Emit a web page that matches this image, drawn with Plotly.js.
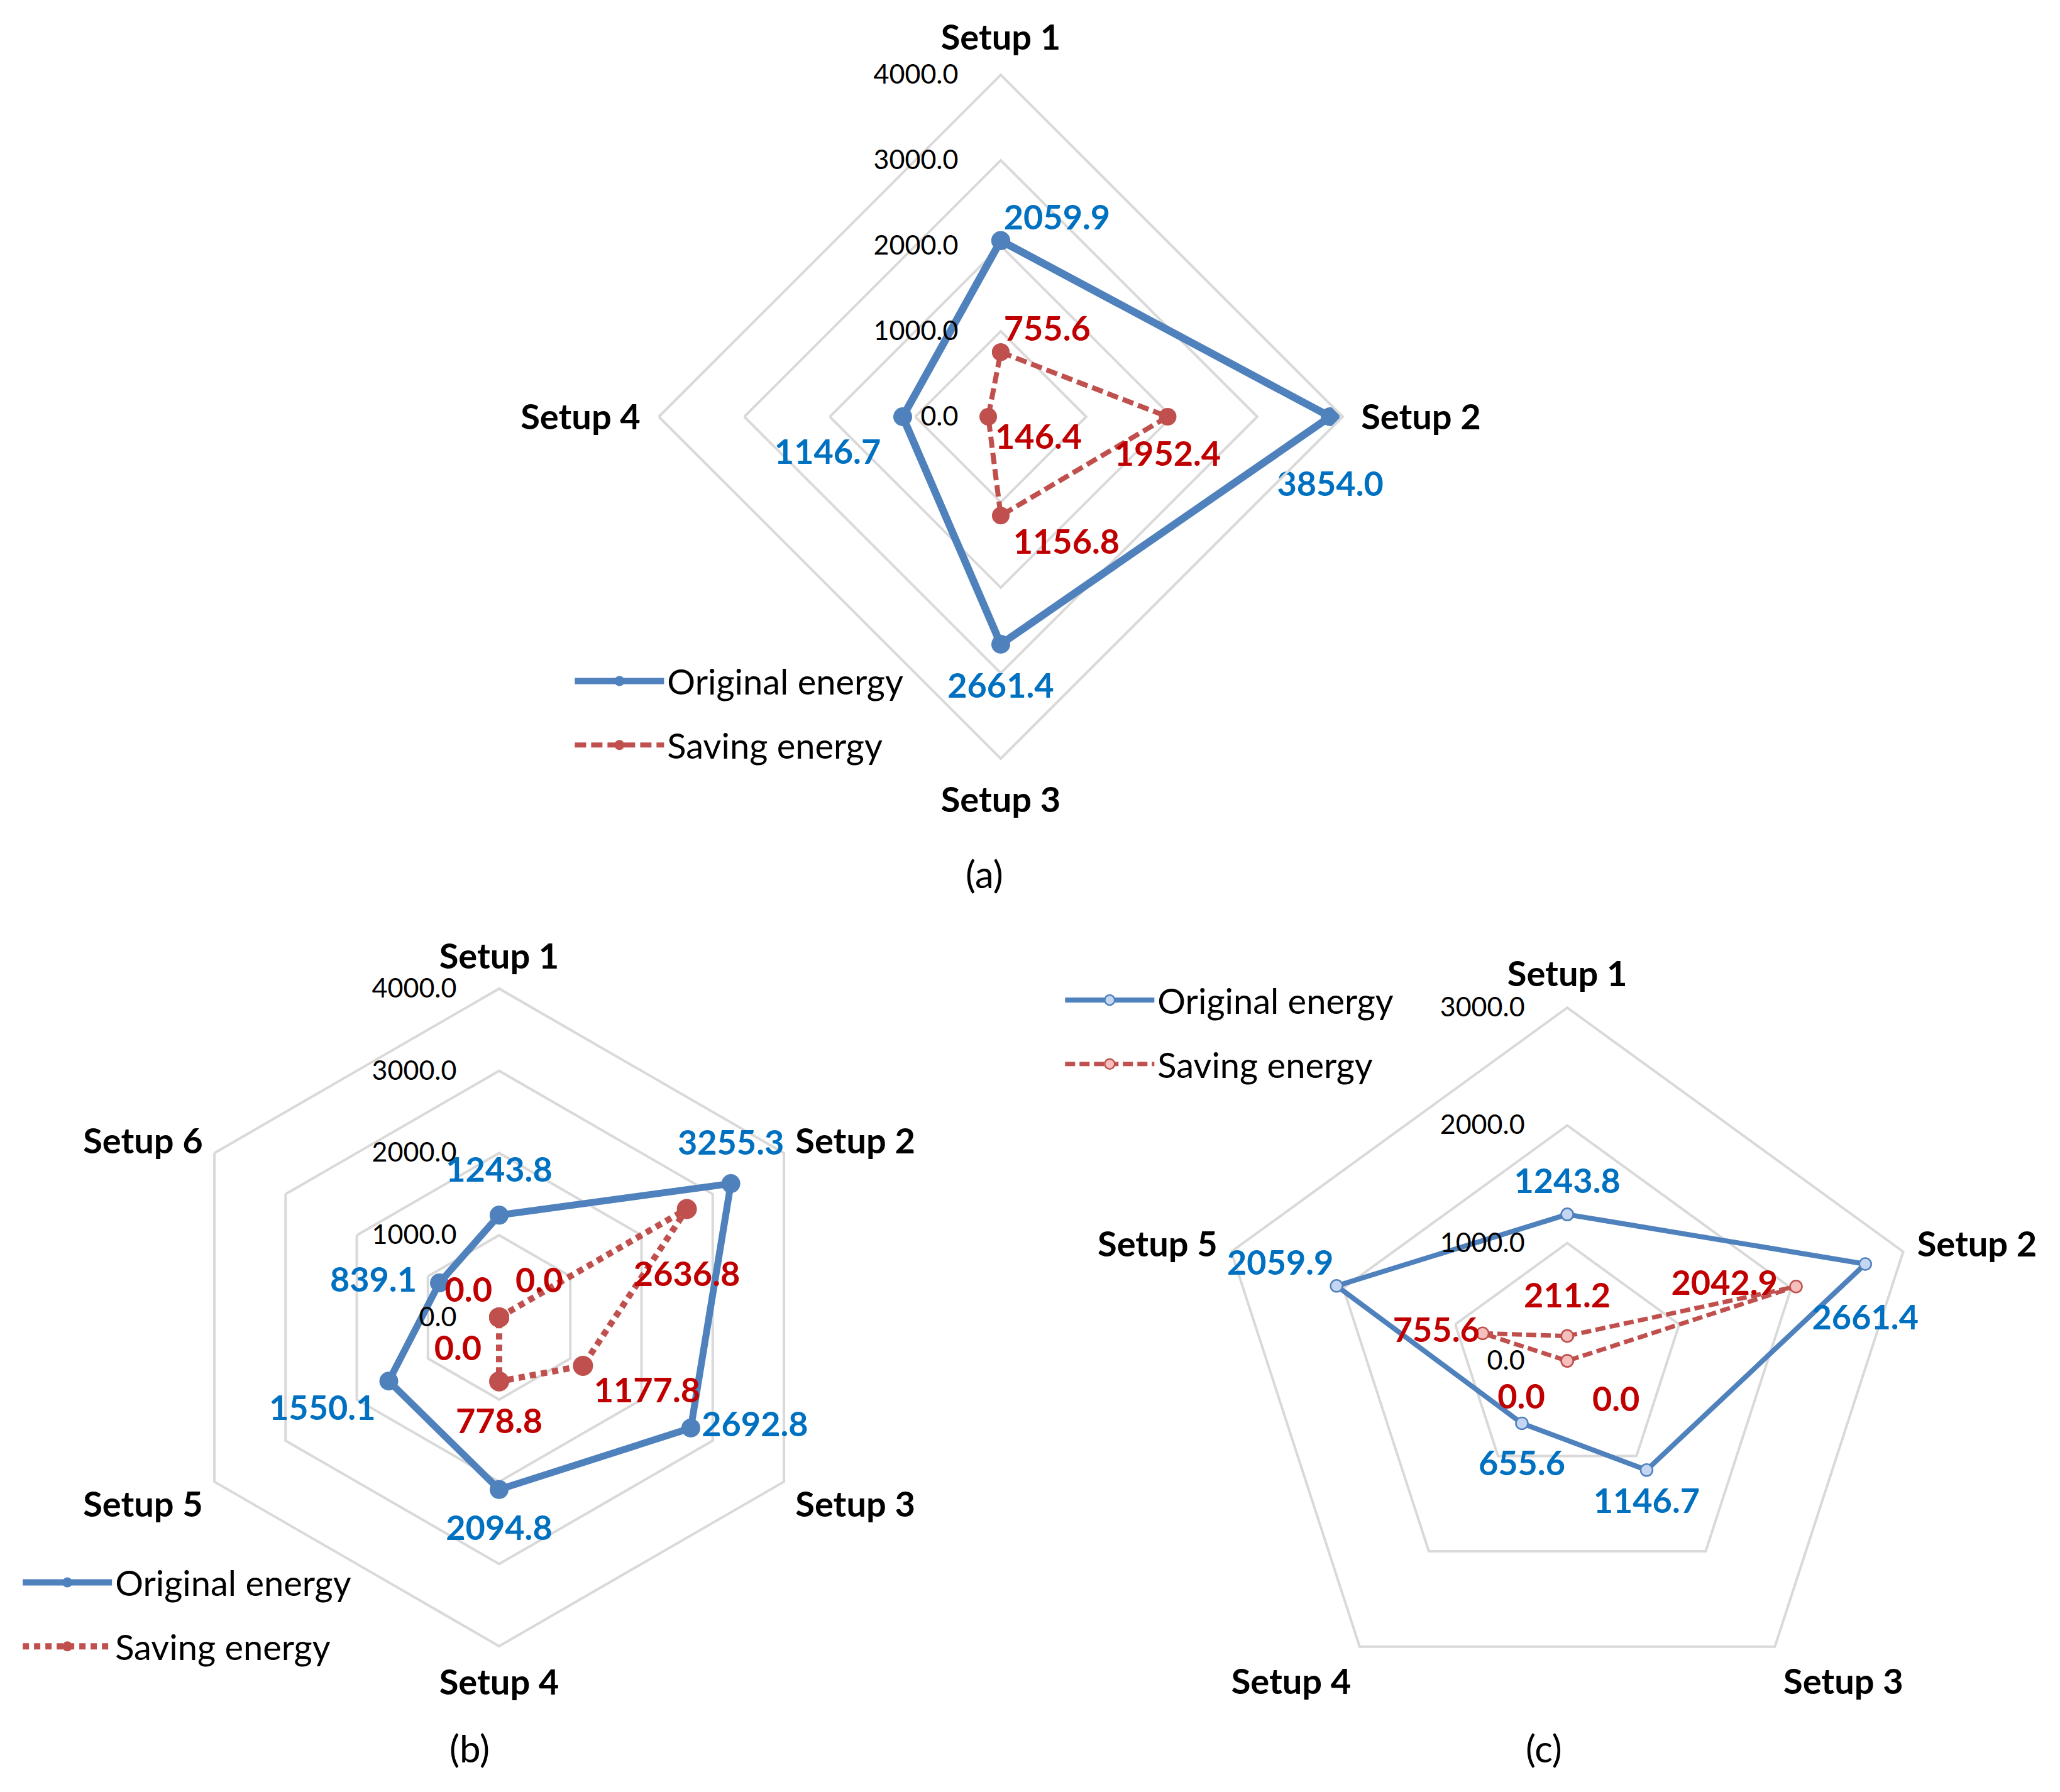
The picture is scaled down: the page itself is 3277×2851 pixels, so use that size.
<!DOCTYPE html>
<html><head><meta charset="utf-8">
<script src="https://cdn.plot.ly/plotly-3.0.1.min.js"></script>
<style>html,body{margin:0;padding:0;background:#fff}#chart{width:3277px;height:2851px}</style>
</head><body><div id="chart"></div>
<script>
// ---------- data ----------
const catsA = ['Setup 1', 'Setup 2', 'Setup 3', 'Setup 4'];
const origA = [2059.9, 3854.0, 2661.4, 1146.7];
const saveA = [755.6, 1952.4, 1156.8, 146.4];

const catsB = ['Setup 1', 'Setup 2', 'Setup 3', 'Setup 4', 'Setup 5', 'Setup 6'];
const origB = [1243.8, 3255.3, 2692.8, 2094.8, 1550.1, 839.1];
const saveB = [0.0, 2636.8, 1177.8, 778.8, 0.0, 0.0];

const catsC = ['Setup 1', 'Setup 2', 'Setup 3', 'Setup 4', 'Setup 5'];
const origC = [1243.8, 2661.4, 1146.7, 655.6, 2059.9];
const saveC = [211.2, 2042.9, 0.0, 0.0, 755.6];

const ticksAB = [0, 1000, 2000, 3000, 4000];
const ticksC = [0, 1000, 2000, 3000];
const seriesNames = ['Original energy', 'Saving energy'];
const panelLabels = ['(a)', '(b)', '(c)'];

// ---------- styles ----------
const FONT = 'Lato, "Open Sans", sans-serif';
const BLUE = '#4F81BD', RED = '#C0504D';
const BLUE_TXT = '#0070C0', RED_TXT = '#C00000';
const GRID = '#D9D9D9';

// label placement (position keyword + invisible spacer size that sets the distance)
const posA = [['top right', 'bottom center', 'bottom center', 'bottom left'],
              ['top right', 'bottom center', 'bottom right', 'bottom right']];
const gapA = [[6, 136, 69, 54], [6, 58, 30, 16]];
const posB = [['top center', 'top center', 'middle right', 'bottom center', 'bottom left', 'middle left'],
              ['top right', 'bottom center', 'bottom right', 'bottom center', 'bottom left', 'top left']];
const gapB = [[62, 50, 26, 62, 32, 56], [40, 130, 26, 66, 43, 16]];
const posC = [['top center', 'bottom center', 'bottom center', 'bottom center', 'top left'],
              ['top center', 'middle left', 'bottom right', 'bottom left', 'middle left']];
const gapC = [[32, 100, 42, 66, 6], [50, 45, 62, 55, 6]];

const close = a => a.concat([a[0]]);

// sub: subplot holding lines/markers/saving labels; labSub: subplot holding original-energy labels
function panel(sub, labSub, leg, cats, orig, save, pos, gap, st) {
  const clip = sub !== labSub;   // clip on axis so points at r = 0 stay visible
  const out = [];
  [orig, save].forEach((vals, i) => {
    const isO = i === 0;
    out.push({
      type: 'scatterpolar', subplot: sub, legend: leg, legendgroup: leg + i,
      name: seriesNames[i], mode: 'lines+markers', cliponaxis: clip,
      r: close(vals), theta: close(cats),
      line: {color: isO ? BLUE : RED, width: isO ? st.bw : st.rw, dash: isO ? 'solid' : st.dash},
      marker: {size: isO ? st.bms : st.rms, color: isO ? st.bfill : st.rfill,
               line: {color: isO ? BLUE : RED, width: st.mlw}},
      hoverinfo: 'skip'
    });
  });
  [orig, save].forEach((vals, i) => {
    out.push({
      type: 'scatterpolar', subplot: i === 0 ? labSub : sub, showlegend: false,
      mode: 'markers+text', cliponaxis: i === 0 ? false : clip,
      r: vals, theta: cats, text: vals.map(v => v.toFixed(1)),
      textposition: pos[i],
      marker: {size: gap[i], color: 'rgba(0,0,0,0)', opacity: 0},
      textfont: {family: FONT, size: 54, weight: 700, color: i === 0 ? BLUE_TXT : RED_TXT},
      hoverinfo: 'skip'
    });
  });
  return out;
}

const data = [].concat(
  panel('polar', 'polar', 'legend', catsA, origA, saveA, posA, gapA,
        {bw: 12, rw: 8, dash: '18px,8px', bms: 30, rms: 28, bfill: BLUE, rfill: RED, mlw: 0}),
  panel('polar2', 'polar4', 'legend2', catsB, origB, saveB, posB, gapB,
        {bw: 11, rw: 10, dash: '10px,8px', bms: 30, rms: 32, bfill: BLUE, rfill: RED, mlw: 0}),
  panel('polar3', 'polar5', 'legend3', catsC, origC, saveC, posC, gapC,
        {bw: 8, rw: 7, dash: '16px,7px', bms: 19, rms: 19, bfill: '#C5D6F2', rfill: '#F4BFBD', mlw: 2.5})
);

function polarLayout(dom, cats, ticks, tl) {
  return {
    domain: dom, bgcolor: 'rgba(0,0,0,0)', gridshape: 'linear',
    angularaxis: {
      type: 'category', categoryarray: cats, direction: 'clockwise', rotation: 90,
      showgrid: false, showline: true, linecolor: GRID, linewidth: 4,
      ticks: 'outside', ticklen: tl, tickcolor: 'rgba(0,0,0,0)',
      tickfont: {family: FONT, size: 56, weight: 700, color: '#000'}
    },
    radialaxis: {
      range: [0, ticks[ticks.length - 1]], tickvals: ticks, tickformat: '.1f',
      angle: 90, tickangle: 90, side: 'counterclockwise',
      showline: false, ticks: 'outside', ticklen: 52, tickcolor: 'rgba(0,0,0,0)',
      gridcolor: GRID, gridwidth: 4,
      tickfont: {family: FONT, size: 43, color: '#000'}
    }
  };
}
// transparent twin of a panel, same scales, used only for labels that may sit outside the grid
function overlayLayout(dom, cats, ticks) {
  return {
    domain: dom, bgcolor: 'rgba(0,0,0,0)', gridshape: 'linear',
    angularaxis: {
      type: 'category', categoryarray: cats, direction: 'clockwise', rotation: 90,
      showgrid: false, showline: false, ticks: '', showticklabels: false
    },
    radialaxis: {
      range: [0, ticks[ticks.length - 1]], angle: 90,
      showgrid: false, showline: false, ticks: '', showticklabels: false
    }
  };
}

function legendLayout(x, y) {
  return {x: x, y: y, xanchor: 'left', yanchor: 'top', bgcolor: 'rgba(0,0,0,0)',
          font: {family: FONT, size: 56, color: '#000'}, tracegroupgap: 26, itemwidth: 142};
}

const domA = {x: [0.3198, 0.6518], y: [0.5766, 0.9583]};
const domB = {x: [0.0827, 0.4019], y: [0.0814, 0.4483]};
const domC = {x: [0.5893, 0.9323], y: [0.0435, 0.4377]};
const capFont = {family: FONT, size: 60, color: '#000'};
const layout = {
  width: 3277, height: 2851, margin: {l: 0, r: 0, t: 0, b: 0},
  paper_bgcolor: '#fff', font: {family: FONT},
  polar: polarLayout(domA, catsA, ticksAB, 16),
  polar2: polarLayout(domB, catsB, ticksAB, 8),
  polar3: polarLayout(domC, catsC, ticksC, 10),
  polar4: overlayLayout(domB, catsB, ticksAB),
  polar5: overlayLayout(domC, catsC, ticksC),
  legend: legendLayout(0.2775, 0.635),
  legend2: legendLayout(0.0095, 0.132),
  legend3: legendLayout(0.5155, 0.457),
  annotations: [
    {text: panelLabels[0], x: 0.478, y: 0.5125, xref: 'paper', yref: 'paper', showarrow: false,
     xanchor: 'center', yanchor: 'middle', font: capFont},
    {text: panelLabels[1], x: 0.228, y: 0.0245, xref: 'paper', yref: 'paper', showarrow: false,
     xanchor: 'center', yanchor: 'middle', font: capFont},
    {text: panelLabels[2], x: 0.7495, y: 0.0245, xref: 'paper', yref: 'paper', showarrow: false,
     xanchor: 'center', yanchor: 'middle', font: capFont}
  ]
};

Plotly.newPlot('chart', data, layout, {staticPlot: true});
</script></body></html>
